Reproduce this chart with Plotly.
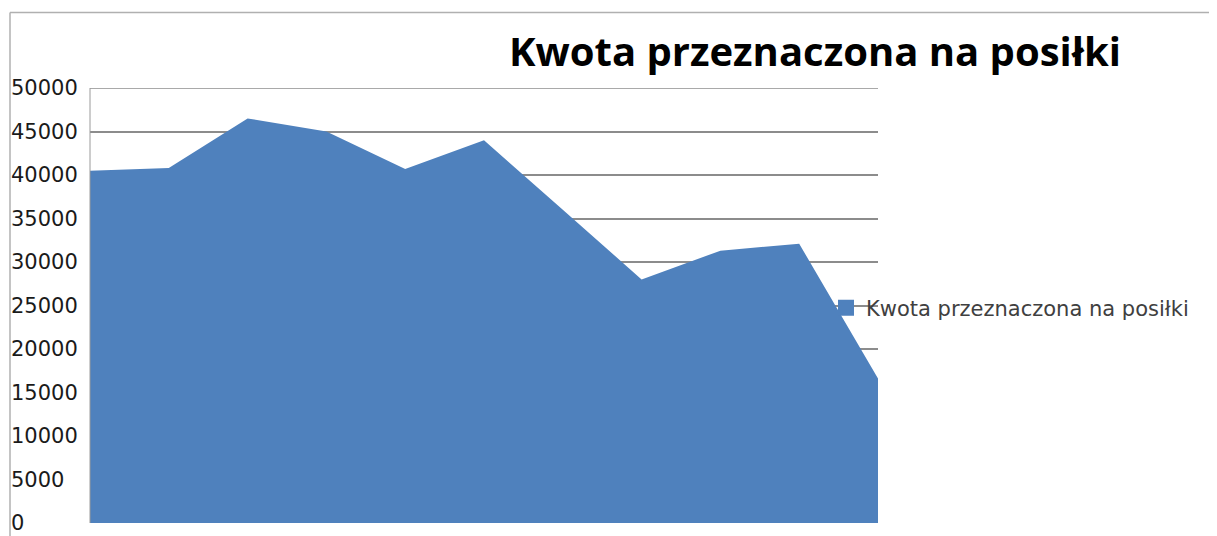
import plotly.graph_objects as go

# data
series_name = "Kwota przeznaczona na posiłki"
months = list(range(1, 12))
amounts = [40500, 40800, 46500, 45000, 40700, 44000, 36000, 28000, 31300, 32100, 16600]
tick_values = [0, 5000, 10000, 15000, 20000, 25000, 30000, 35000, 40000, 45000, 50000]
tick_labels = ["0", "5000", "10000", "15000", "20000", "25000", "30000",
               "35000", "40000", "45000", "50000"]

blue = "#4f81bd"
grid = "#8c8c8c"

fig = go.Figure()

# filled area
fig.add_trace(go.Scatter(
    x=months, y=amounts,
    mode="none",
    fill="tozeroy",
    fillcolor=blue,
    showlegend=False,
    hoverinfo="x+y"
))

# legend entry with a square swatch
fig.add_trace(go.Scatter(
    x=[None], y=[None],
    mode="markers",
    marker=dict(symbol="square", size=16, color=blue),
    name=series_name
))

# page body adds an 8px margin, so the figure is 8px smaller than the window
fig.update_layout(
    width=1209, height=528,
    margin=dict(l=2, r=0, t=80, b=13),
    plot_bgcolor="white",
    paper_bgcolor="white",
    title=dict(
        text="<b>" + series_name + "</b>",
        font=dict(family="Open Sans", size=40, color="#000000"),
        xref="container", x=807 / 1209, xanchor="center",
        yref="container", y=1 - 44 / 528, yanchor="middle"
    ),
    xaxis=dict(
        domain=[80 / 1207, 868 / 1207],
        range=[1, 11],
        showgrid=False, zeroline=False, showticklabels=False,
        ticks="", showline=False
    ),
    yaxis=dict(
        range=[0, 50000],
        tickvals=tick_values, ticktext=tick_labels,
        anchor="free", position=0, side="right",
        ticks="", ticklabelstandoff=0,
        tickfont=dict(family="DejaVu Sans", size=21, color="#1a1a1a"),
        showgrid=True, gridcolor=grid, gridwidth=1.5,
        zeroline=False, showline=False
    ),
    legend=dict(
        x=(826 - 10) / 1207, xanchor="left",
        y=(523 - 308) / 435, yanchor="middle",
        bgcolor="rgba(0,0,0,0)",
        font=dict(family="DejaVu Sans", size=21, color="#404040")
    ),
    shapes=[
        # top gridline at the end of the range
        dict(type="line", xref="x domain", yref="y", x0=0, x1=1, y0=50000, y1=50000,
             line=dict(color=grid, width=1.5), layer="below"),
        # left edge of plot area
        dict(type="line", xref="x domain", yref="y", x0=0, x1=0, y0=0, y1=50000,
             line=dict(color="#9a9a9a", width=1), layer="above"),
        # chart frame (top and left)
        dict(type="line", xref="paper", yref="paper", x0=0, x1=1.01,
             y0=(523 - 12.5) / 435, y1=(523 - 12.5) / 435,
             line=dict(color="#b0b0b0", width=1.5)),
        dict(type="line", xref="paper", yref="paper", x0=0, x1=0,
             y0=-0.05, y1=(523 - 12.5) / 435,
             line=dict(color="#b0b0b0", width=1.5)),
    ]
)

fig.write_html("out.html")
